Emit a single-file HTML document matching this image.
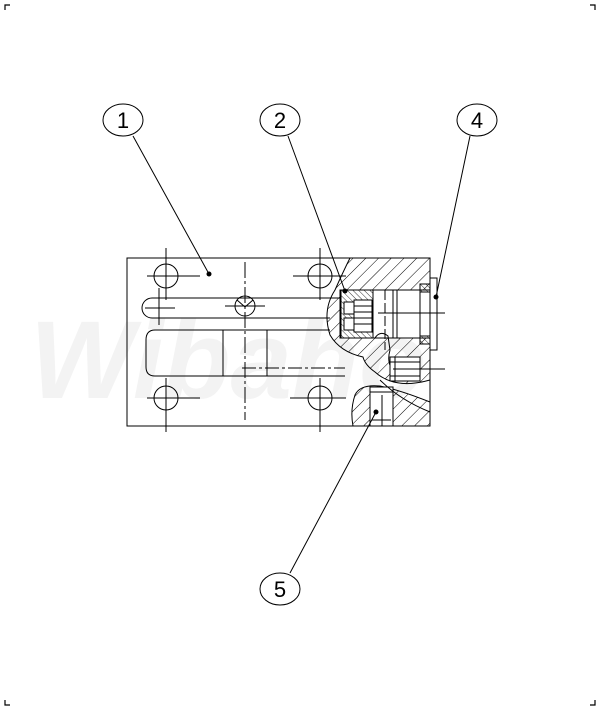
<!DOCTYPE html>
<html><head><style>html,body{margin:0;padding:0;background:#fff}svg{display:block}</style></head>
<body>
<svg width="600" height="710" viewBox="0 0 600 710" xmlns="http://www.w3.org/2000/svg" font-family="Liberation Sans, sans-serif">
<defs>
<pattern id="h" patternUnits="userSpaceOnUse" width="9" height="9" patternTransform="rotate(45)">
<line x1="0" y1="0" x2="0" y2="9" stroke="#000" stroke-width="1"/>
</pattern>
<pattern id="h2" patternUnits="userSpaceOnUse" width="4" height="4" patternTransform="rotate(-45)">
<line x1="0" y1="0" x2="0" y2="4" stroke="#000" stroke-width="0.8"/>
</pattern>
</defs>
<g stroke="#000" stroke-width="1.2" fill="none">
<!-- corner marks -->
<path d="M5,10 V5 H10 M590,5 H595 V10 M5,700 V705 H10 M590,705 H595 V700"/>
</g>
<!-- watermark -->
<text x="30" y="398" font-size="110" font-weight="bold" font-style="italic" fill="#f3f3f3">Wibaho</text>
<g stroke="#000" stroke-width="1" fill="none">
<!-- body -->
<rect x="127" y="258" width="303" height="168" fill="none"/>
<!-- hatched regions -->
<path d="M350,258 L430,258 L430,380 Q395,390 375,372 Q365,365 363,357 Q340,352 330,335 Q322,310 335,290 Q343,272 350,258 Z" fill="url(#h)"/>
<path d="M353,426 L430,426 L430,402 Q400,390 380,386 Q360,384 355,395 Q350,410 353,426 Z" fill="url(#h)"/>
<!-- bore -->
<rect x="340" y="290" width="90" height="48" fill="#fff"/>
<rect x="341" y="290" width="32" height="48" fill="url(#h2)"/>
<rect x="344" y="302" width="10" height="12" fill="#fff"/>
<rect x="344" y="318" width="10" height="12" fill="#fff"/>
<rect x="354" y="300" width="18" height="32" fill="#fff"/>
<path d="M354,306 H372 M354,312 H372 M354,318 H372 M354,324 H372"/>
<path d="M373,290 V338 M393,290 V338 M397,290 V338 M420,290 V338"/>
<rect x="420" y="284" width="10" height="8" fill="url(#h2)"/>
<rect x="420" y="336" width="10" height="8" fill="url(#h2)"/>
<rect x="430" y="278" width="7" height="72" fill="#fff"/>
<path d="M375,338 Q380,330 388,336 L390,350 Q385,368 400,375"/>
<!-- port -->
<rect x="390" y="357" width="30" height="24" fill="#fff"/>
<path d="M395,357 V381 M390,362 H420 M390,376 H420"/>
<!-- lower fitting -->
<rect x="370" y="387" width="23" height="39" fill="#fff"/>
<path d="M370,392 H393 M372,420 H391"/>
<path d="M380,380 Q400,400 430,412"/>
<!-- holes -->
<circle cx="166" cy="276" r="12"/><circle cx="320" cy="276" r="12"/>
<circle cx="166" cy="398" r="12"/><circle cx="320" cy="398" r="12"/>
<path d="M147,276 H200 M166,248 V300 M293,276 H346 M320,248 V300 M147,398 H200 M166,378 V432 M290,398 H346 M320,378 V432"/>
<!-- upper slot -->
<path d="M152,298 H340 M152,318 H330"/>
<path d="M152,298 A10,10 0 0 0 152,318"/>
<path d="M145,308 H175 M159,288 V325"/>
<circle cx="245" cy="306" r="10"/>
<path d="M225,306 H265 M237,300 L245,307 L253,300"/>
<!-- big slot -->
<path d="M155,330 H330 M155,376 H345 M155,330 Q146,330 146,340 V367 Q146,376 155,376"/>
<path d="M223,330 V376 M267,330 V376"/>
<path d="M242,368 H345" stroke-dasharray="14,3,3,3"/>
<path d="M245,262 V420" stroke-dasharray="16,3,3,3"/>
<path d="M385,290 V350" stroke-dasharray="10,3"/>
<path d="M378,313 H445 M393,369 H445 M382,395 V426"/>
<!-- balloons -->
<ellipse cx="123" cy="120" rx="20" ry="16" fill="#fff"/>
<ellipse cx="280" cy="120" rx="20" ry="16" fill="#fff"/>
<ellipse cx="477" cy="120" rx="20" ry="16" fill="#fff"/>
<ellipse cx="280" cy="589" rx="20" ry="16" fill="#fff"/>
<!-- leaders -->
<path d="M133,136 L209,274 M288,136 L345,291 M470,136 L436,297 M290,573 L376,412"/>
</g>
<g fill="#000">
<circle cx="209" cy="274" r="2.5"/><circle cx="345" cy="291" r="2.5"/>
<circle cx="436" cy="297" r="2.5"/><circle cx="376" cy="412" r="2.5"/>
</g>
<g font-size="22" text-anchor="middle" fill="#000">
<text x="123" y="128">1</text><text x="280" y="128">2</text>
<text x="477" y="128">4</text><text x="280" y="597">5</text>
</g>
</svg>
</body></html>
